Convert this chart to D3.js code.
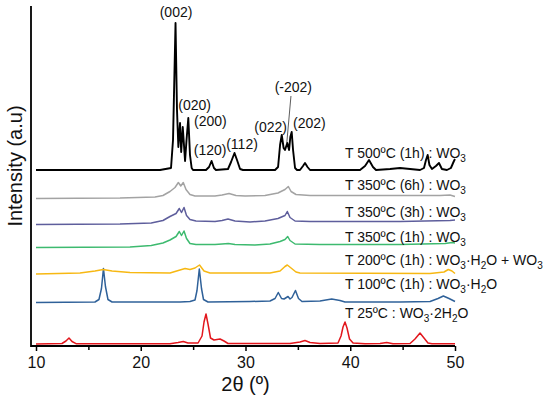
<!DOCTYPE html>
<html>
<head>
<meta charset="utf-8">
<script src="https://cdn.jsdelivr.net/npm/d3@7"></script>
<style>
    body { margin: 0; background: #fff; }
    svg { display: block; font-family: "Liberation Sans", Arial, sans-serif; }
</style>
</head>
<body>
<div id="chart"></div>
<script>
// XRD patterns, stacked. each point is [2theta, intensity above its own baseline]
var pattern500 = [[10, 0], [21.84, 0], [22.89, 2], [23.08, 30], [23.32, 147], [23.46, 60], [23.59, 23], [23.75, 47],
    [23.86, 18], [24.01, 43], [24.23, 9], [24.37, 30], [24.54, 52], [24.70, 15], [24.86, 2], [24.99, 0], [26.23, 0],
    [26.52, 3], [26.76, 9], [26.99, 2], [27.18, 0], [28.33, 1], [28.62, 8], [28.95, 17], [29.19, 10], [29.48, 1],
    [29.76, 0], [32.82, 0], [33.11, 3], [33.30, 25], [33.46, 35], [33.64, 22], [33.77, 20], [33.99, 27], [34.16, 20],
    [34.28, 33], [34.41, 38], [34.54, 20], [34.73, 2], [34.92, 0], [35.20, 0], [35.49, 4], [35.68, 7], [35.92, 3],
    [36.16, 0], [40.93, 0], [41.41, 4], [41.79, 10], [42.17, 3], [42.46, 0], [43.80, 1], [44.75, 2], [45.71, 1],
    [46.66, 0], [47.04, 2], [47.23, 10], [47.39, 15], [47.56, 5], [47.80, 1], [48.18, 4], [48.47, 7], [48.75, 1],
    [49.23, 0], [49.61, 2], [49.90, 9], [50, 11]]
var pattern350_6h = [[10, 0], [18.02, 0.5], [21.36, 1.5], [22.12, 3], [22.79, 7], [23.27, 11], [23.59, 16], [23.82, 12.5],
    [24.06, 16], [24.32, 9], [24.70, 4], [25.18, 2.5], [27.09, 2.5], [27.76, 3.5], [28.43, 5], [29.09, 3], [29.95, 2.5],
    [31.86, 3], [33.10, 5.5], [33.77, 9], [34.09, 12], [34.35, 7], [34.82, 4], [36.16, 3], [39.98, 3], [44.75, 3],
    [48.57, 3], [49.52, 3.5], [50, 2]]
var pattern350_3h = [[10, 0], [18.02, 0.5], [21.0, 1.5], [22.12, 4], [22.79, 8], [23.37, 11], [23.68, 16], [23.89, 12],
    [24.13, 17], [24.37, 9], [24.70, 5], [25.27, 3.5], [27.09, 3], [27.76, 4], [28.33, 5.5], [29.0, 3.5], [30.43, 2.5],
    [31.86, 3.5], [33.10, 6], [33.77, 9], [33.99, 13], [34.25, 7], [34.73, 3.5], [36.16, 3], [44.75, 3], [49.52, 4],
    [50, 4.5]]
var pattern350_1h = [[10, 0], [18.97, 0.5], [21.0, 2], [22.12, 4.5], [22.79, 7.5], [23.37, 11], [23.68, 16], [23.89, 12],
    [24.13, 16.5], [24.37, 9], [24.70, 4], [25.27, 3], [27.09, 3], [27.76, 3.5], [28.36, 4], [29.0, 3], [30.9, 2.5],
    [32.34, 3.5], [33.30, 6], [33.77, 8], [34.03, 11], [34.25, 7], [34.73, 3.5], [37.1, 3], [44.75, 3], [49.05, 4],
    [49.71, 5], [50, 4.5]]
var pattern200 = [[10, 0], [14.2, 1], [15.63, 3], [16.42, 4.5], [17.26, 3], [18.97, 1.5], [22.79, 1], [23.75, 4],
    [24.23, 5.5], [24.70, 4.5], [25.18, 6], [25.61, 9], [26.04, 3], [26.61, 1], [32.34, 1], [33.30, 3], [33.77, 7.5],
    [33.99, 9], [34.35, 6], [34.82, 2], [35.2, 1], [47.62, 0.5], [48.95, 2], [49.36, 4.5], [49.71, 3], [50, 0.5]]
var pattern100 = [[10, 0], [15.63, 0.5], [16.01, 3], [16.25, 14], [16.44, 34], [16.63, 16], [16.87, 3], [17.26, 0.5],
    [23.75, 0.5], [24.70, 1], [25.18, 2.5], [25.37, 12], [25.59, 33.5], [25.80, 14], [25.99, 3], [26.42, 0.5],
    [30.43, 1], [32.34, 1.5], [32.82, 4], [33.13, 10], [33.44, 4], [33.68, 3.5], [34.06, 6], [34.25, 3.5], [34.44, 5],
    [34.77, 12], [35.06, 4], [35.39, 1], [37.11, 1.5], [38.23, 3.5], [39.02, 2], [39.50, 0.5], [44.75, 0.5],
    [47.62, 1], [48.38, 4], [48.89, 6.5], [49.43, 4], [50, 1]]
var pattern25 = [[10, 0], [12.48, 0.5], [12.86, 3], [13.15, 6], [13.44, 2.5], [13.82, 0.3], [22.79, 0.3], [23.56, 1.5],
    [24.06, 2.5], [24.51, 1], [25.47, 1], [25.85, 8], [26.04, 22], [26.23, 30], [26.42, 20], [26.66, 6], [26.99, 4],
    [27.28, 4.5], [27.57, 5], [27.95, 3], [28.33, 0.5], [34.25, 0.5], [35.2, 2], [35.68, 3.5], [36.16, 1.5],
    [36.64, 1], [37.11, 0.5], [38.83, 1], [39.12, 8], [39.31, 17], [39.50, 22], [39.69, 16], [39.93, 5], [40.27, 1],
    [41.41, 0.3], [42.84, 0.5], [43.48, 1.5], [44.08, 0.3], [45.71, 0.5], [46.18, 5], [46.66, 11], [47.04, 6],
    [47.42, 1], [47.80, 0.3], [50, 0.3]]

var patterns = [pattern500, pattern350_6h, pattern350_3h, pattern350_1h, pattern200, pattern100, pattern25]
var baseOffsets = [176, 147.5, 121.5, 98.5, 72, 43.5, 2]
// "_n" marks a subscript digit
var sampleNames = ['T 500ºC (1h) : WO_3', 'T 350ºC (6h) : WO_3', 'T 350ºC (3h) : WO_3', 'T 350ºC (1h) : WO_3',
    'T 200ºC (1h) : WO_3·H_2O + WO_3', 'T 100ºC (1h) : WO_3·H_2O', 'T 25ºC : WO_3·2H_2O']
var nameHeights = [12, 8.5, 8, 6, 9.5, 13.5, 26.5]   // name baseline above each pattern's baseline

var peakLabels = ['(002)', '(020)', '(200)', '(120)', '(112)', '(022)', '(-202)', '(202)']
var peakLabelX = [23.37, 25.15, 26.65, 26.62, 29.67, 32.4, 34.57, 36.1]
var peakLabelY = [153, 60, 44, 15, 21, 38, 78, 42]

var xTicks = [10, 20, 30, 40, 50]
var xMinorTicks = [15, 25, 35, 45]

var colors = ['#000000', '#a3a3a3', '#5e5e9c', '#3dba6f', '#f7b813', '#2f6199', '#e2161c']

;(function () {
    var width = 550, height = 399
    var svg = d3.select('#chart').append('svg').attr('width', width).attr('height', height)

    var x = d3.scaleLinear().domain([10, 50]).range([36, 455])
    var y = d3.scaleLinear().domain([0, 340]).range([346, 6])

    var line = d3.line()

    // patterns
    for (var i = patterns.length - 1; i >= 0; i--) {
        var off = baseOffsets[i]
        line.x(function (d) { return x(d[0]) })
            .y(function (d) { return y(d[1] + off) })
        svg.append('path')
            .attr('d', line(patterns[i]))
            .attr('fill', 'none')
            .attr('stroke', colors[i])
            .attr('stroke-width', i == 0 ? 1.9 : 1.5)
            .attr('stroke-linejoin', 'round')
    }

    // sample names, with subscripts
    for (var i = 0; i < sampleNames.length; i++) {
        var t = svg.append('text')
            .attr('x', 345)
            .attr('y', y(baseOffsets[i] + nameHeights[i]))
            .attr('font-size', 14)
            .attr('fill', '#111')
        var parts = sampleNames[i].split(/_(\d)/)
        for (var j = 0; j < parts.length; j++) {
            if (parts[j] === '') continue
            if (j % 2 == 1) {
                t.append('tspan').attr('font-size', 10).attr('dy', 4).text(parts[j])
            } else {
                t.append('tspan').attr('dy', j > 0 ? -4 : 0).text(parts[j])
            }
        }
    }

    // miller indices on the 500ºC pattern
    svg.selectAll('text.hkl').data(peakLabels).enter().append('text')
        .attr('class', 'hkl')
        .attr('x', function (d, i) { return x(peakLabelX[i]) })
        .attr('y', function (d, i) { return y(baseOffsets[0] + peakLabelY[i]) })
        .attr('text-anchor', 'middle')
        .attr('font-size', 14)
        .attr('fill', '#111')
        .text(function (d) { return d })
    svg.append('line')
        .attr('x1', x(34.34)).attr('y1', y(baseOffsets[0] + 74))
        .attr('x2', x(33.94)).attr('y2', y(baseOffsets[0] + 27))
        .attr('stroke', '#333').attr('stroke-width', 0.8)

    // axes
    var gx = svg.append('g').attr('transform', 'translate(0,346)')
    gx.call(d3.axisBottom(x).tickValues(xTicks).tickSize(5).tickSizeOuter(0).tickPadding(6))
    gx.select('.domain').remove()
    gx.selectAll('text').attr('font-size', 16).attr('font-family', null).attr('fill', '#111')
    gx.selectAll('line').attr('stroke-width', 1.5)
    var gm = svg.append('g').attr('transform', 'translate(0,346)')
    gm.call(d3.axisBottom(x).tickValues(xMinorTicks).tickSize(4).tickFormat(''))
    gm.select('.domain').remove()
    gm.selectAll('line').attr('stroke-width', 1.5)

    svg.append('path')
        .attr('d', 'M' + 31 + ',' + y(340) + 'V' + y(0) + 'H' + x(50))
        .attr('fill', 'none')
        .attr('stroke', '#000')
        .attr('stroke-width', 1.8)

    svg.append('text')
        .attr('x', (x(10) + x(50)) / 2)
        .attr('y', 391)
        .attr('text-anchor', 'middle')
        .attr('font-size', 20)
        .attr('fill', '#111')
        .text('2θ (º)')
    svg.append('text')
        .attr('transform', 'translate(22,166) rotate(-90)')
        .attr('text-anchor', 'middle')
        .attr('font-size', 20)
        .attr('fill', '#111')
        .text('Intensity (a.u)')
}).call(this)
</script>
</body>
</html>
